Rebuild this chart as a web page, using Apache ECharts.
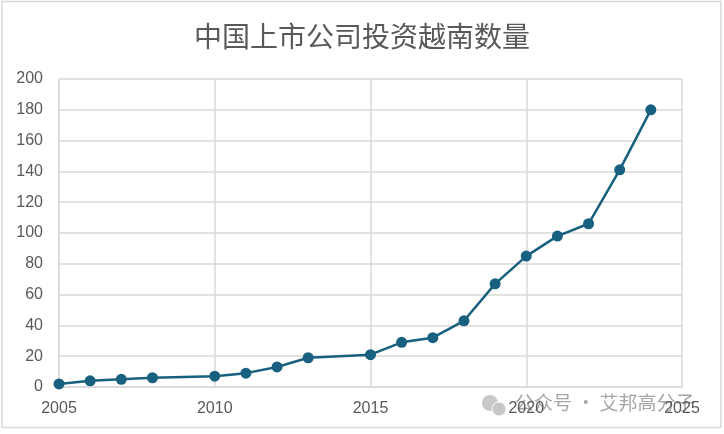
<!DOCTYPE html>
<html><head><meta charset="utf-8">
<script src="https://cdn.jsdelivr.net/npm/echarts@6/dist/echarts.min.js"></script>
<style>html,body{margin:0;padding:0;background:#fff}#c{width:724px;height:434px}</style>
</head><body><div id="c"></div>
<script>
const titleText = '中国上市公司投资越南数量';
const years = [2005, 2006, 2007, 2008, 2010, 2011, 2012, 2013, 2015, 2016, 2017, 2018, 2019, 2020, 2021, 2022, 2023, 2024];
const counts = [2, 4, 5, 6, 7, 9, 13, 19, 21, 29, 32, 43, 67, 85, 98, 106, 141, 180];
const watermark = '公众号 · 艾邦高分子';

const chart = echarts.init(document.getElementById('c'));
const grey = '#595959';
chart.setOption({
  animation: false,
  title: {text: titleText, left: 'center', top: 17,
    textStyle: {fontFamily: 'Noto Sans CJK SC', fontWeight: 'normal', fontSize: 28, color: grey}},
  grid: {left: 59, right: 42, top: 79, bottom: 47},
  xAxis: {type: 'value', min: 2005, max: 2025, interval: 5,
    axisLine: {show: true, lineStyle: {color: '#d9d9d9', width: 1.5}},
    axisTick: {show: false},
    splitLine: {show: true, lineStyle: {color: '#d9d9d9', width: 1.5}},
    axisLabel: {color: grey, fontSize: 16, fontFamily: 'Liberation Sans', margin: 14, formatter: v => String(v)}},
  yAxis: {type: 'value', min: 0, max: 200, interval: 20,
    axisLine: {show: true, lineStyle: {color: '#d9d9d9', width: 1.5}},
    axisTick: {show: false},
    splitLine: {show: true, lineStyle: {color: '#d9d9d9', width: 1.5}},
    axisLabel: {color: grey, fontSize: 16, fontFamily: 'Liberation Sans', margin: 16}},
  series: [{type: 'line', data: years.map((y, i) => [y, counts[i]]),
    symbol: 'circle', symbolSize: 11, color: '#17607f',
    lineStyle: {width: 2.5, color: '#17607f'}, itemStyle: {color: '#17607f'}}],
  graphic: [
    {type: 'rect', shape: {x: 2, y: 1.5, width: 719, height: 426}, style: {fill: 'none', stroke: '#d9d9d9', lineWidth: 1.5}, silent: true},
    {type: 'group', left: 482, top: 393, children: [
      {type: 'circle', shape: {cx: 9, cy: 10, r: 8}, style: {fill: '#c8c8c8'}},
      {type: 'circle', shape: {cx: 18, cy: 16, r: 7}, style: {fill: '#c8c8c8', stroke: '#fff', lineWidth: 1}},
      {type: 'text', style: {x: 34, y: 0, text: watermark, fontSize: 19, fill: '#a6a6a6', fontFamily: 'Noto Sans CJK SC'}}
    ]}
  ]
});
</script></body></html>
